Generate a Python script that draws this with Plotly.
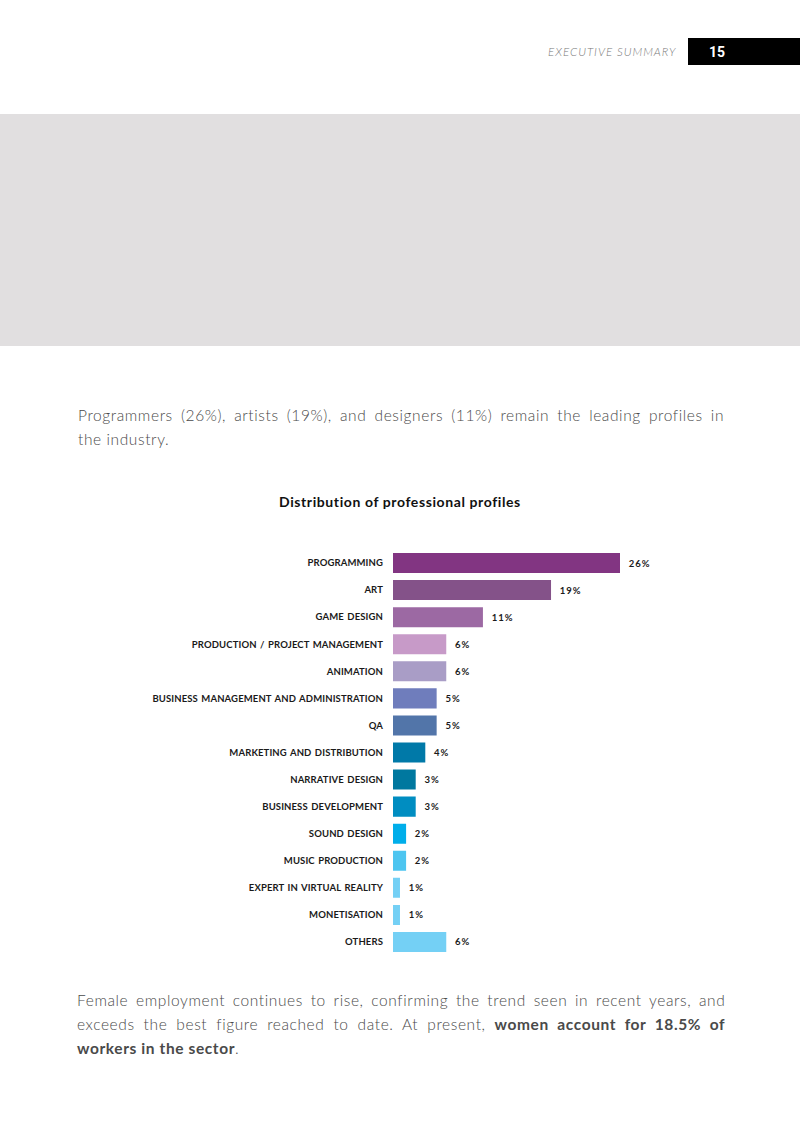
import plotly.graph_objects as go

categories = ["PROGRAMMING", "ART", "GAME DESIGN", "PRODUCTION / PROJECT MANAGEMENT", "ANIMATION",
              "BUSINESS MANAGEMENT AND ADMINISTRATION", "QA", "MARKETING AND DISTRIBUTION",
              "NARRATIVE DESIGN", "BUSINESS DEVELOPMENT", "SOUND DESIGN", "MUSIC PRODUCTION",
              "EXPERT IN VIRTUAL REALITY", "MONETISATION", "OTHERS"]
values = [26.0, 18.1, 10.3, 6.1, 6.1, 5.0, 5.0, 3.7, 2.6, 2.6, 1.5, 1.5, 0.8, 0.8, 6.1]
value_labels = ["26%", "19%", "11%", "6%", "6%", "5%", "5%", "4%", "3%", "3%", "2%", "2%", "1%", "1%", "6%"]
colors = ["#823582", "#845289", "#9c69a3", "#c79ac8", "#a99dc6", "#6f7dbc", "#5275a9", "#0079a8",
          "#00789f", "#008dc1", "#00aeea", "#4dc5f0", "#74d0f5", "#74d0f5", "#74d0f5"]

W, H = 800, 1131
def px(x): return x / W
def py(y): return 1 - y / H

def sp(text, ls=0.0, ws=0.0):
    return f'<span style="letter-spacing:{ls}px;word-spacing:{ws}px">{text}</span>'

fig = go.Figure(go.Bar(
    x=values, y=categories, orientation="h",
    marker=dict(color=colors, line=dict(width=0)),
    width=0.74,
    text=[sp("\u2002" + t, ls=1.0) for t in value_labels], textposition="outside", cliponaxis=False,
    textfont=dict(family="Lato", size=9.5, color="#1a1a1a", weight="bold"),
    hoverinfo="skip",
))

x0, x26 = 393, 620
scale = (x26 - x0) / 26.0
xmax = 32
fig.update_layout(
    width=W, height=H, margin=dict(l=0, r=0, t=0, b=0),
    paper_bgcolor="white", plot_bgcolor="white", showlegend=False,
    xaxis=dict(domain=[px(x0), px(x0 + scale * xmax)], range=[0, xmax], visible=False, fixedrange=True),
    yaxis=dict(domain=[py(955.5), py(549.5)], autorange="reversed", showgrid=False, zeroline=False,
               showline=False, ticks="", ticklabelstandoff=9,
               tickmode="array", tickvals=categories,
               ticktext=[sp(c, ls=0.12, ws=1.0) for c in categories],
               tickfont=dict(family="Lato", size=9.5, color="#1a1a1a", weight="bold")),
    bargap=0.26,
)

shapes = [
    dict(type="rect", xref="paper", yref="paper", x0=px(0), x1=px(800), y0=py(346), y1=py(114),
         fillcolor="#e1dfe0", line=dict(width=0), layer="below"),
    dict(type="rect", xref="paper", yref="paper", x0=px(688), x1=px(800), y0=py(65), y1=py(38),
         fillcolor="#000000", line=dict(width=0)),
]
fig.update_layout(shapes=shapes)

body_font = dict(family="Lato", size=15.5, color="#4a4a4a", weight=300)
annotations = [
    dict(text=sp("<i>EXECUTIVE SUMMARY</i>", ls=1.0), x=px(678), y=py(51), xanchor="right", yanchor="middle",
         font=dict(family="Lato", size=11.5, color="#777777", weight=300)),
    dict(text="<b>15</b>", x=px(717), y=py(52), xanchor="center", yanchor="middle",
         font=dict(family="Roboto", size=14, color="#ffffff")),
    dict(text=sp("Programmers (26%), artists (19%), and designers (11%) remain the leading profiles in", ls=0.6, ws=3.35),
         x=px(76), y=py(415), xanchor="left", yanchor="middle", font=body_font),
    dict(text=sp("the industry.", ls=0.6), x=px(76), y=py(439), xanchor="left", yanchor="middle", font=body_font),
    dict(text=sp("<b>Distribution of professional profiles</b>", ls=0.6), x=px(400), y=py(501), xanchor="center",
         yanchor="middle", font=dict(family="Lato", size=14, color="#111111")),
    dict(text=sp("Female employment continues to rise, confirming the trend seen in recent years, and", ls=0.6, ws=2.95),
         x=px(75), y=py(1000), xanchor="left", yanchor="middle", font=body_font),
    dict(text=sp("exceeds the best figure reached to date. At present, <b>women account for 18.5% of</b>", ls=0.6, ws=4.2),
         x=px(75), y=py(1024), xanchor="left", yanchor="middle", font=body_font),
    dict(text=sp("<b>workers in the sector</b>.", ls=0.6), x=px(75), y=py(1048), xanchor="left", yanchor="middle",
         font=body_font),
]
for a in annotations:
    a.update(xref="paper", yref="paper", showarrow=False)
fig.update_layout(annotations=annotations)

fig.write_html("out.html")
